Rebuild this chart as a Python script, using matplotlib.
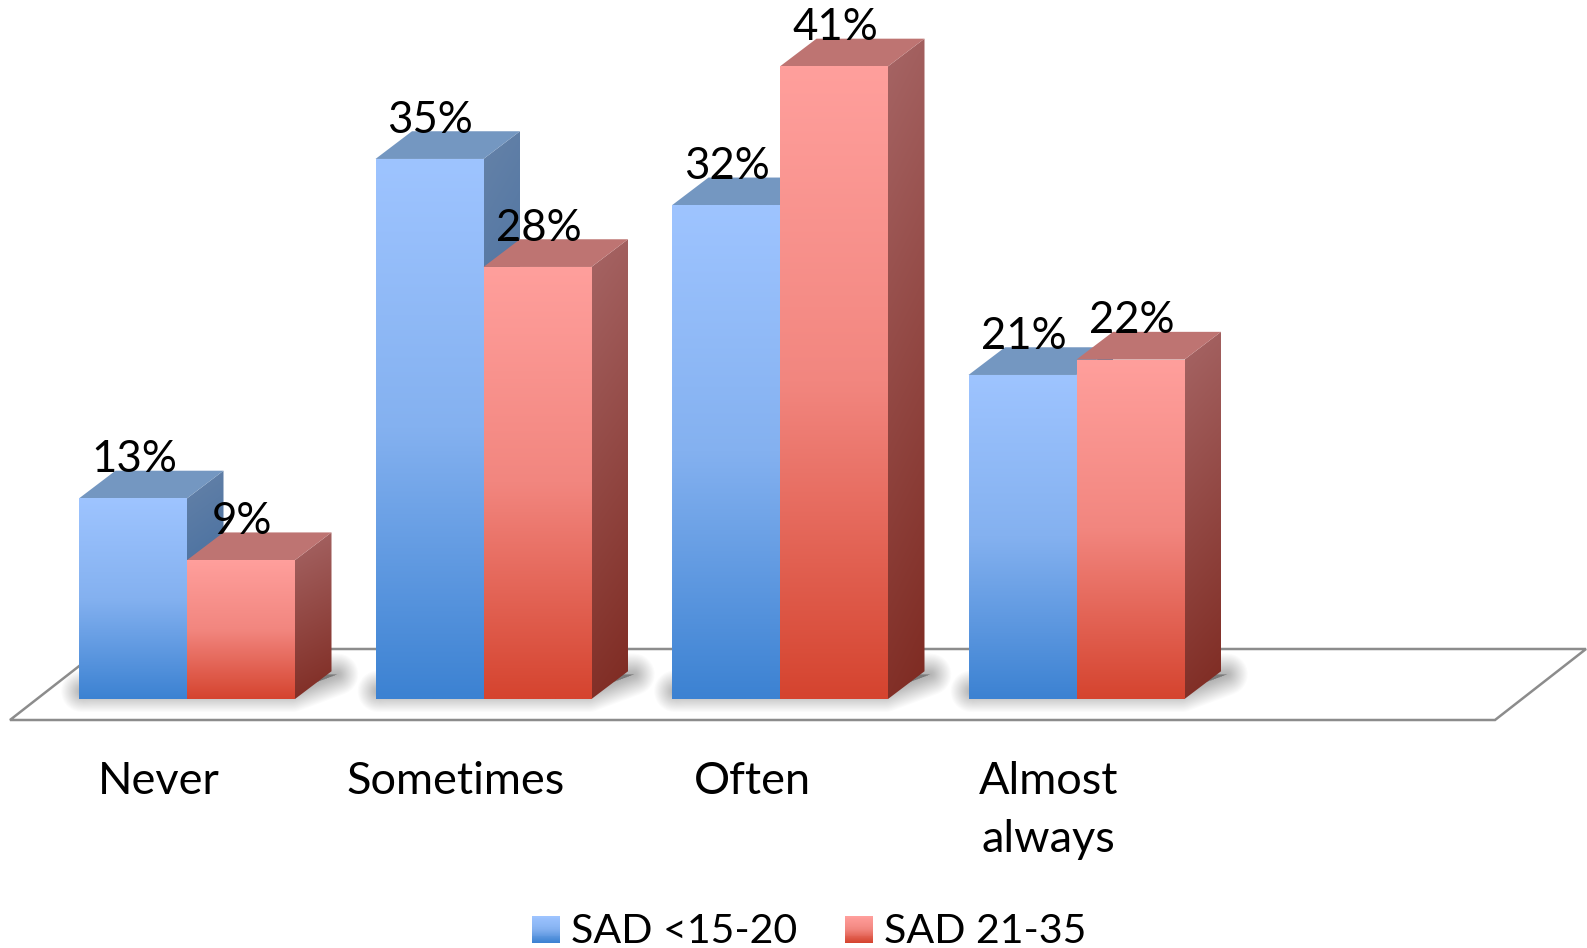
import numpy as np
import matplotlib
matplotlib.use("Agg")
import matplotlib.pyplot as plt
from matplotlib.colors import to_rgb
from matplotlib.legend_handler import HandlerBase
from matplotlib.patches import Patch, Polygon, Rectangle

categories = ["Never", "Sometimes", "Often", "Almost\nalways"]
series_names = ["SAD <15-20", "SAD 21-35"]
sad_low = [13, 35, 32, 21]
sad_high = [9, 28, 41, 22]

plt.rcParams["font.family"] = ["Lato", "DejaVu Sans"]

W, H = 1587, 948
BASE_PX = 699      # pixel row of the zero line
PX_PER_PCT = 15.43
PX_PER_CAT = 296.5
FIRST_PX = 187     # pixel column of the first group centre

BAR_W = 108 / PX_PER_CAT
DEP_X = 36.5 / PX_PER_CAT
DEP_Y = 27.7 / PX_PER_PCT

FRONT = {
    "blue": ["#9ec4ff", "#84b1f0", "#3c82d2"],
    "red": ["#ff9f9c", "#f2867f", "#d5442f"],
}
SIDE = {"blue": ["#6582a8", "#2b5d98"], "red": ["#a66565", "#7e2a21"]}
TOP = {"blue": "#7497c1", "red": "#be7472"}


def gradient(stops, t):
    '''t是0-1的位置，0是顶部'''
    pos = np.linspace(0, 1, len(stops))
    rgb = np.array([to_rgb(c) for c in stops])
    return np.dstack([np.interp(t, pos, rgb[:, k]) for k in range(3)])


def paintPoly(ax, pts, img, zorder):
    '''把渐变图裁剪到多边形里'''
    pts = np.array(pts)
    poly = Polygon(pts, closed=True, fc="none", ec="none", transform=ax.transData)
    ax.add_patch(poly)
    im = ax.imshow(img, extent=[pts[:, 0].min(), pts[:, 0].max(), pts[:, 1].min(), pts[:, 1].max()],
                   aspect="auto", origin="upper", interpolation="bilinear", zorder=zorder)
    im.set_clip_path(poly)


def drawBar(ax, x, value, kind, zorder):
    '''一根立体柱子：正面、侧面、顶面'''
    yy = np.linspace(0, 1, 128)[:, None]
    paintPoly(ax, [(x, 0), (x + BAR_W, 0), (x + BAR_W, value), (x, value)],
              gradient(FRONT[kind], yy), zorder + 0.2)
    xx = np.linspace(0, 1, 32)[None, :]
    paintPoly(ax, [(x + BAR_W, 0), (x + BAR_W + DEP_X, DEP_Y),
                   (x + BAR_W + DEP_X, value + DEP_Y), (x + BAR_W, value)],
              gradient(SIDE[kind], np.clip(yy * 0.9 + xx * 0.1, 0, 1)), zorder + 0.1)
    ax.add_patch(Polygon([(x, value), (x + BAR_W, value),
                          (x + BAR_W + DEP_X, value + DEP_Y), (x + DEP_X, value + DEP_Y)],
                         closed=True, fc=TOP[kind], ec="none", zorder=zorder + 0.1))


def drawShadow(ax, left, right):
    '''柱子底部的软阴影，用多层半透明描边叠出来'''
    pts = [(left + 0.01, 0.5), (right - 0.01, 0.5), (right + DEP_X + 0.02, DEP_Y - 0.2),
           (right, DEP_Y - 0.2)]
    for lw in np.linspace(30, 1, 20):
        ax.add_patch(Polygon(pts, closed=True, fc="black", ec="black", alpha=0.017, lw=lw,
                             joinstyle="round", zorder=1.5, clip_on=False))


class GradHandler(HandlerBase):
    '''图例色块也画成渐变'''

    def __init__(self, stops):
        super().__init__()
        self.stops = stops

    def create_artists(self, legend, orig, xd, yd, width, height, fontsize, trans):
        n = 30
        cols = gradient(self.stops, np.linspace(0, 1, n)[:, None])[:, 0, :]
        out = []
        box_h = 27 * 0.72
        box_y = -yd
        for i in range(n):
            out.append(Rectangle((-xd, box_y + box_h * (1 - (i + 1) / n)), width, box_h / n + 0.2,
                                 fc=cols[i], ec="none", transform=trans))
        return out


fig = plt.figure(figsize=(W / 100, H / 100), dpi=100)
ax = fig.add_axes([0, (H - BASE_PX) / H, 1, BASE_PX / H])
ax.set_facecolor("none")

# 地板
floor_l = (10 - FIRST_PX) / PX_PER_CAT
floor_r = (1495 - FIRST_PX) / PX_PER_CAT
floor_s = 91 / PX_PER_CAT
floor_lo = (BASE_PX - 720) / PX_PER_PCT
floor_hi = (BASE_PX - 649) / PX_PER_PCT
ax.add_patch(Polygon([(floor_l, floor_lo), (floor_r, floor_lo), (floor_r + floor_s, floor_hi),
                      (floor_l + floor_s, floor_hi)], closed=True, fc="white", ec="#8c8c8c",
                     lw=1.8, zorder=1, clip_on=False))

xpos = np.arange(len(categories))
for i in xpos:
    left = i - BAR_W
    drawShadow(ax, left, i + BAR_W)
    drawBar(ax, left, sad_low[i], "blue", 2)
    drawBar(ax, i, sad_high[i], "red", 3)
    ax.text(left + BAR_W / 2 + 0.003, sad_low[i] + DEP_Y - 0.1, f"{sad_low[i]}%", ha="center",
            va="baseline", fontsize=31.5, color="black", zorder=5)
    ax.text(i + BAR_W / 2 + 0.003, sad_high[i] + DEP_Y - 0.1, f"{sad_high[i]}%", ha="center",
            va="baseline", fontsize=31.5, color="black", zorder=5)

ax.set_xlim(-FIRST_PX / PX_PER_CAT, (W - FIRST_PX) / PX_PER_CAT)
ax.set_ylim(0, BASE_PX / PX_PER_PCT)
ax.set_xticks(xpos - 28 / PX_PER_CAT, categories, fontsize=32.5, linespacing=1.52)
ax.set_yticks([])
ax.tick_params(axis="x", length=0, pad=44.5)
for s in ax.spines.values():
    s.set_visible(False)

h1 = Patch(label=series_names[0])
h2 = Patch(label=series_names[1])
fig.legend(handles=[h1, h2], loc="lower left", bbox_to_anchor=(532 / W, -2 / H), ncol=2, frameon=False,
           fontsize=29.6, borderaxespad=0, borderpad=0, handlelength=0.68, handletextpad=0.26,
           columnspacing=1.18, labelspacing=0,
           handler_map={h1: GradHandler(FRONT["blue"]), h2: GradHandler(FRONT["red"])})

fig.savefig("out.png", dpi=100)
